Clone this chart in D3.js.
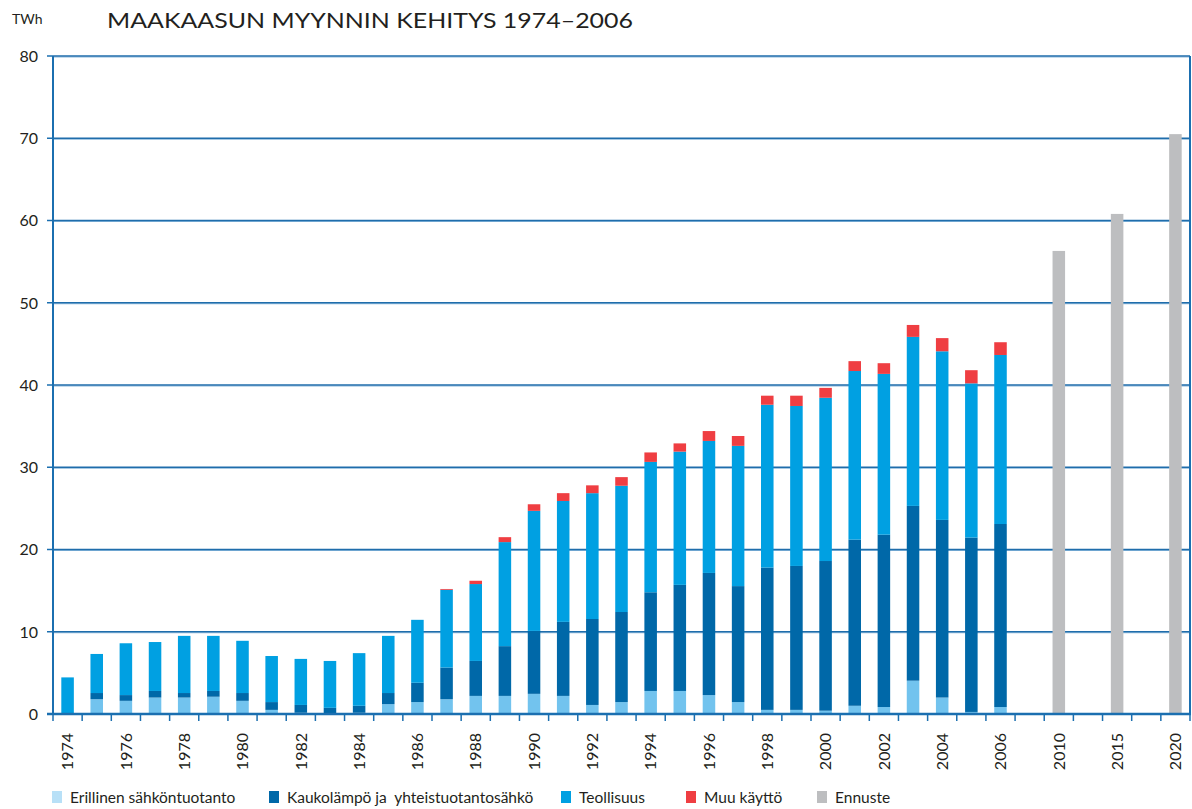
<!DOCTYPE html>
<html>
<head>
<meta charset="utf-8">
<script src="https://cdn.jsdelivr.net/npm/d3@7"></script>
<style>
body{margin:0;background:#fff;}
svg text{font-family:Lato,"Open Sans",sans-serif;fill:#231f20;}
</style>
</head>
<body>
<svg id="chart" width="1192" height="809"></svg>
<script>
//data
var years=d3.range(1974,2007).map(String);
var erillinen=[0,1.8,1.6,2.0,2.0,2.1,1.6,0.5,0.15,0,0.15,1.2,1.45,1.8,2.2,2.2,2.45,2.2,1.1,1.45,2.8,2.8,2.3,1.45,0.5,0.5,0.4,1.0,0.85,4.05,2.0,0.25,0.85];
var kaukolampo=[0.05,0.75,0.7,0.8,0.55,0.7,0.95,0.95,0.95,0.75,0.85,1.35,2.35,3.85,4.25,6.05,7.65,9.0,10.45,10.95,12.0,12.9,14.85,14.1,17.3,17.5,18.2,20.2,20.95,21.25,21.6,21.2,22.25];
var teollisuus=[4.4,4.75,6.3,5.95,6.95,6.7,6.35,5.6,5.6,5.7,6.4,6.95,7.65,9.45,9.35,12.65,14.6,14.7,15.3,15.35,15.85,16.2,16.05,17.05,19.8,19.45,19.85,20.5,19.55,20.55,20.5,18.75,20.55];
var muu=[0,0,0,0,0,0,0,0,0,0,0,0,0,0.1,0.4,0.6,0.8,0.95,0.95,1.05,1.15,1.0,1.2,1.2,1.1,1.25,1.2,1.2,1.3,1.45,1.6,1.6,1.55];
var forecastYears=["2010","2015","2020"];
var ennuste=[56.3,60.8,70.5];
var yTicks=[0,10,20,30,40,50,60,70,80];
var seriesNames=["Erillinen sähköntuotanto","Kaukolämpö ja  yhteistuotantosähkö","Teollisuus","Muu käyttö","Ennuste"];
var colors=["#72c3ee","#0068a8","#00a0e2","#ef3e42","#bdbec0"];
var legendColors=["#b8e0f7","#0068a8","#00a0e2","#ef3e42","#bdbec0"];

var svg=d3.select("#chart");
var pLeft=53,pRight=1190,pTop=56,pBottom=714;

//categories incl. empty slots between forecasts
var keys=years.concat(["g1","2010","g2","2015","g3","2020"]);
var x=d3.scaleBand().domain(keys).range([pLeft,pRight]).paddingInner(0.57).paddingOuter(0.285);
var y=d3.scaleLinear().domain([0,80]).range([pBottom,pTop]);

//grid
var grid=svg.append("g").selectAll("g").data(yTicks.filter(function(d){return d>0;})).enter().append("g");
grid.append("line").attr("x1",pLeft).attr("x2",pRight).attr("y1",function(d){return y(d)+1;}).attr("y2",function(d){return y(d)+1;})
    .attr("stroke","#8ab8dc").attr("stroke-width",1);
grid.append("line").attr("x1",pLeft).attr("x2",pRight).attr("y1",function(d){return y(d);}).attr("y2",function(d){return y(d);})
    .attr("stroke","#1f6dab").attr("stroke-width",1.4);

//y ticks+labels
var yg=svg.append("g");
yg.selectAll("line").data(yTicks).enter().append("line")
    .attr("x1",pLeft-6).attr("x2",pLeft).attr("y1",function(d){return y(d);}).attr("y2",function(d){return y(d);})
    .attr("stroke","#1b6fb0").attr("stroke-width",1.5);
yg.selectAll("text").data(yTicks).enter().append("text")
    .attr("x",38).attr("y",function(d){return y(d);}).attr("dy","0.36em")
    .attr("text-anchor","end").attr("font-size",16).text(function(d){return d;});

//stacked bars
var rows=years.map(function(yr,i){return {year:yr,a:erillinen[i],b:kaukolampo[i],c:teollisuus[i],d:muu[i]};});
var stack=d3.stack().keys(["a","b","c","d"])(rows);
svg.append("g").selectAll("g").data(stack).enter().append("g")
    .attr("fill",function(d,i){return colors[i];})
    .selectAll("rect").data(function(d){return d;}).enter().append("rect")
    .attr("x",function(d){return x(d.data.year);}).attr("width",x.bandwidth())
    .attr("y",function(d){return y(d[1]);}).attr("height",function(d){return y(d[0])-y(d[1]);});

svg.append("g").selectAll("rect").data(forecastYears).enter().append("rect")
    .attr("x",function(d){return x(d);}).attr("width",x.bandwidth())
    .attr("y",function(d,i){return y(ennuste[i]);}).attr("height",function(d,i){return y(0)-y(ennuste[i]);})
    .attr("fill",colors[4]);

//frame
svg.append("line").attr("x1",pLeft).attr("x2",pLeft).attr("y1",pTop).attr("y2",pBottom).attr("stroke","#1b6fb0").attr("stroke-width",2);
svg.append("line").attr("x1",pRight).attr("x2",pRight).attr("y1",pTop).attr("y2",pBottom).attr("stroke","#1b6fb0").attr("stroke-width",2);
svg.append("line").attr("x1",pLeft-6).attr("x2",pRight+1).attr("y1",pBottom).attr("y2",pBottom).attr("stroke","#1b6fb0").attr("stroke-width",2.5);

//x ticks at slot boundaries
var step=x.step();
svg.append("g").selectAll("line").data(d3.range(keys.length+1)).enter().append("line")
    .attr("x1",function(i){return pLeft+i*step;}).attr("x2",function(i){return pLeft+i*step;})
    .attr("y1",pBottom).attr("y2",pBottom+7).attr("stroke","#1b6fb0").attr("stroke-width",1.5);

var xLabels=years.filter(function(d){return +d%2==0;}).concat(forecastYears);
svg.append("g").selectAll("text").data(xLabels).enter().append("text")
    .attr("transform",function(d){return "translate("+(x(d)+x.bandwidth()/2)+",733) rotate(-90)";})
    .attr("dy","0.36em").attr("text-anchor","end").attr("font-size",16).text(function(d){return d;});

//titles
svg.append("text").attr("x",12).attr("y",24).attr("font-size",14).text("TWh");
svg.append("text").attr("x",107).attr("y",28).attr("font-size",22)
    .attr("textLength",526).attr("lengthAdjust","spacingAndGlyphs").text("MAAKAASUN MYYNNIN KEHITYS 1974–2006");

//legend
var legX=[52,269,561,686,817];
var leg=svg.append("g").selectAll("g").data(seriesNames).enter().append("g")
    .attr("transform",function(d,i){return "translate("+legX[i]+",791)";});
leg.append("rect").attr("width",10).attr("height",12).attr("fill",function(d,i){return legendColors[i];});
leg.append("text").attr("x",18).attr("y",11.5).attr("font-size",15.5).style("white-space","pre").text(function(d){return d;});
</script>
</body>
</html>
